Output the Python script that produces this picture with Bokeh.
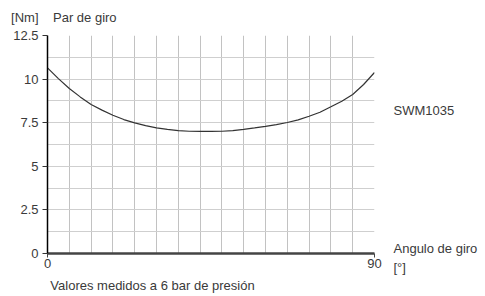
from bokeh.plotting import figure
from bokeh.models import FixedTicker, Range1d, LinearAxis, NumeralTickFormatter
from bokeh.embed import file_html
from bokeh.resources import INLINE

# data
angle = [0, 3, 6, 9, 12, 15, 18, 21, 24, 27, 30, 33, 36, 39, 42, 45, 48, 51, 54, 57,
         60, 63, 66, 69, 72, 75, 78, 81, 84, 87, 90]
torque = [10.64, 10.03, 9.46, 8.98, 8.54, 8.22, 7.93, 7.68, 7.49, 7.33, 7.20, 7.12, 7.05, 7.01,
          7.00, 7.00, 7.01, 7.05, 7.12, 7.20, 7.29, 7.39, 7.51, 7.66, 7.87, 8.10, 8.41, 8.73,
          9.12, 9.69, 10.38]
x_ticks = [0, 90]
y_ticks = [0, 2.5, 5, 7.5, 10, 12.5]
x_grid = list(range(0, 91, 6))
y_grid = [i * 1.25 for i in range(11)]

title_text = "[Nm]\u00a0\u00a0\u00a0 Par de giro"
note_text = "Valores medidos a 6 bar de presión"
series_name = "SWM1035"
x_title = "Angulo de giro"
x_unit = "[°]"
# anchor positions (axis units) of the texts placed around the chart
title_pos = 4.5
note_pos = 28.9
right_pos = [8.21, 0.30]

FONT = "Liberation Sans"
TXT = "#3a3a3a"

p = figure(frame_width=327, frame_height=218, output_backend="svg", toolbar_location=None,
           min_border_left=47, min_border_right=110, min_border_top=35, min_border_bottom=43,
           x_range=Range1d(0, 90), y_range=Range1d(0, 12.5))
p.outline_line_color = None
p.background_fill_color = "white"

p.xgrid.ticker = FixedTicker(ticks=x_grid)
p.ygrid.ticker = FixedTicker(ticks=y_grid)
p.xgrid.grid_line_color = "#c2c2c2"
p.ygrid.grid_line_color = "#cfcfcf"

p.xaxis.ticker = FixedTicker(ticks=x_ticks)
p.yaxis.ticker = FixedTicker(ticks=y_ticks)
p.yaxis.formatter = NumeralTickFormatter(format="0.[0]")
for ax in (p.xaxis[0], p.yaxis[0]):
    ax.major_label_text_font = FONT
    ax.major_label_text_font_size = "13px"
    ax.major_label_text_color = TXT
    ax.minor_tick_line_color = None
    ax.major_tick_in = 0
p.yaxis.major_tick_out = 5
p.yaxis.major_label_standoff = 4
p.yaxis.axis_line_color = "black"
p.yaxis.axis_line_width = 1.5
p.yaxis.major_tick_line_color = "#333"
p.xaxis.major_tick_out = 4
p.xaxis.major_label_standoff = 1
p.xaxis.axis_line_color = "#444"
p.xaxis.axis_line_width = 2.5
p.xaxis.major_tick_line_color = "#444"


def text_axis(ticks, labels, standoff, **kw):
    return LinearAxis(ticker=FixedTicker(ticks=ticks),
                      major_label_overrides=dict(zip(ticks, labels)),
                      axis_line_color=None, major_tick_line_color=None,
                      minor_tick_line_color=None, major_tick_out=0, major_tick_in=0,
                      major_label_standoff=standoff, major_label_text_font=FONT,
                      major_label_text_font_size="13px", major_label_text_color=TXT, **kw)


# texts around the chart as labels of invisible axes
p.add_layout(text_axis(right_pos, [series_name, "\n" + x_title + "\n" + x_unit], 19,
                       major_label_text_line_height=1.31), "right")
p.add_layout(text_axis([title_pos], [title_text], 11), "above")
p.add_layout(text_axis([note_pos], [note_text], 7), "below")

p.line(angle, torque, line_color="#333333", line_width=1.2)

open("out.html", "w").write(file_html(p, INLINE))
